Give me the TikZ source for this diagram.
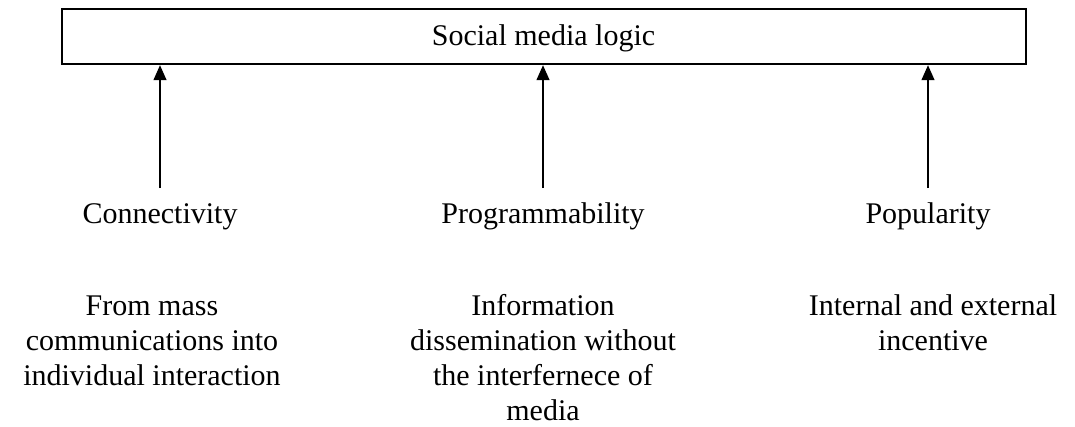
\documentclass[tikz,border=0pt]{standalone}
\usepackage{fontspec}
\setmainfont{Liberation Serif}
\usetikzlibrary{arrows.meta}
\newcommand{\firststrut}{\rule{0pt}{22pt}}
\begin{document}
\begin{tikzpicture}[x=1pt,y=-1pt,
  every node/.style={font=\fontsize{30}{35}\selectfont, inner sep=0pt},
  topbox/.style={draw, line width=2.4pt, minimum width=964pt, minimum height=55pt},
  arr/.style={line width=1.3pt, -{Triangle[length=15pt,width=13pt]}},
  lbl/.style={anchor=base},
  desc/.style={anchor=north, align=center}]
\useasboundingbox (0,0) rectangle (1075,426);
\node[topbox] (top) at (544,36.5) {};
\node[anchor=base] (title) at (543.5,45) {Social media logic};
\coordinate (c1) at (160,188);
\coordinate (c2) at (543,188);
\coordinate (c3) at (928,188);
\draw[arr] (c1) -- (c1 |- top.south);
\draw[arr] (c2) -- (c2 |- top.south);
\draw[arr] (c3) -- (c3 |- top.south);
\node[lbl] (l1) at (160,223) {Connectivity};
\node[lbl] (l2) at (543,223) {Programmability};
\node[lbl] (l3) at (928,223) {Popularity};
\node[desc] (d1) at (152,293) {\firststrut From mass\\communications into\\individual interaction};
\node[desc] (d2) at (543,293) {\firststrut Information\\dissemination without\\the interfernece of\\media};
\node[desc] (d3) at (933,293) {\firststrut Internal and external\\incentive};
\end{tikzpicture}
\end{document}
